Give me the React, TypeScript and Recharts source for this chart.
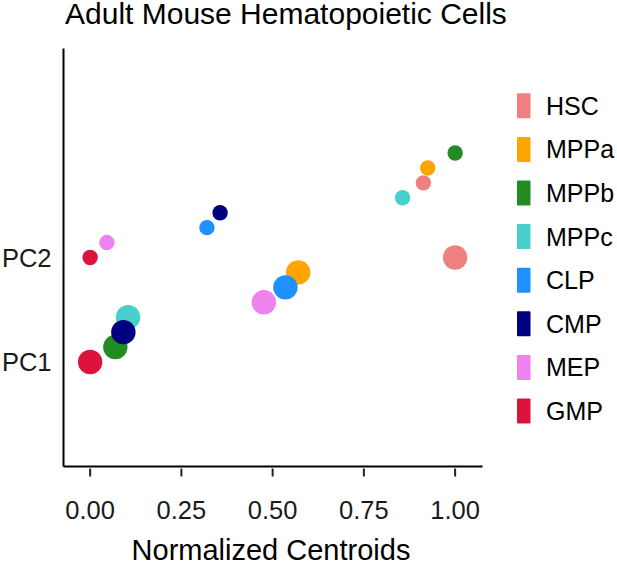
import React from 'react';
import { ScatterChart, Scatter, XAxis, YAxis } from 'recharts';

const cellTypes = ['HSC', 'MPPa', 'MPPb', 'MPPc', 'CLP', 'CMP', 'MEP', 'GMP'];
const cellColors = ['#F08080', '#FFA500', '#228B22', '#48D1CC', '#1E90FF', '#000080', '#EE82EE', '#DC143C'];
const pc1Values = [1.0, 0.57, 0.069, 0.104, 0.535, 0.091, 0.476, 0.0];
const pc2Values = [0.913, 0.925, 1.0, 0.856, 0.32, 0.356, 0.046, 0.0];
const componentLabels = ['PC1', 'PC2'];
const xTicks = [0, 0.25, 0.5, 0.75, 1];
const drawOrder = ['HSC', 'MPPa', 'MPPb', 'MPPc', 'MEP', 'CLP', 'CMP', 'GMP'];

const FONT = '"Liberation Sans", Arial, Helvetica, sans-serif';

const rankOf = (arr: number[], v: number) => arr.filter((a) => a < v).length;
const step = 1 / (cellTypes.length - 1);

const seriesData = cellTypes.map((name, i) => ({
  name,
  color: cellColors[i],
  points: [
    { x: pc1Values[i], y: 1 + rankOf(pc1Values, pc1Values[i]) * step, pc: 'PC1' },
    { x: pc2Values[i], y: 2 + rankOf(pc2Values, pc2Values[i]) * step, pc: 'PC2' },
  ],
}));

const makeShape = (color: string) => (props: any) => {
  const { cx, cy, payload } = props;
  const r = payload.pc === 'PC1' ? 12.2 : 7.7;
  return <circle cx={cx} cy={cy} r={r} fill={color} />;
};

const XTick = (props: any) => {
  const { x, y, payload } = props;
  return (
    <g>
      <line x1={x} x2={x} y1={y + 2} y2={y + 10} stroke="#222" strokeWidth={2} />
      <text x={x} y={y + 52} textAnchor="middle" fontSize={25.5} fill="#1a1a1a" fontFamily={FONT}>
        {Number(payload.value).toFixed(2)}
      </text>
    </g>
  );
};

const YTick = (props: any) => {
  const { y, payload } = props;
  return (
    <text x={51.5} y={y + 9} textAnchor="end" fontSize={25.5} fill="#1a1a1a" fontFamily={FONT}>
      {componentLabels[payload.value - 1]}
    </text>
  );
};

export default function App() {
  return (
    <div style={{ position: 'absolute', left: 0, top: 0, width: 617, height: 569, background: '#fff' }}>
      <ScatterChart
        width={617}
        height={569}
        margin={{ top: 48.5, right: 134.5, bottom: 42.5, left: 7.5 }}
      >
        <XAxis
          type="number"
          dataKey="x"
          domain={[-0.073, 1.075]}
          ticks={xTicks}
          allowDataOverflow
          axisLine={{ stroke: '#000', strokeWidth: 2 }}
          tickLine={false}
          tickSize={0}
          tickMargin={0}
          tick={<XTick />}
          height={60}
          interval={0}
        />
        <YAxis
          type="number"
          dataKey="y"
          domain={[0, 4]}
          ticks={[1, 2]}
          allowDataOverflow
          axisLine={{ stroke: '#000', strokeWidth: 2 }}
          tickLine={false}
          tickSize={0}
          tick={<YTick />}
          width={56}
          interval={0}
        />
        {drawOrder.map((name) => {
          const s = seriesData.find((d) => d.name === name)!;
          return (
            <Scatter
              key={name}
              name={name}
              data={s.points}
              fill={s.color}
              shape={makeShape(s.color)}
              isAnimationActive={false}
            />
          );
        })}
      </ScatterChart>
      <svg
        width={617}
        height={569}
        style={{ position: 'absolute', left: 0, top: 0, pointerEvents: 'none' }}
      >
        <text x={65} y={23.5} fontSize={30} fill="#000" fontFamily={FONT}>
          Adult Mouse Hematopoietic Cells
        </text>
        <text x={271} y={560} textAnchor="middle" fontSize={29} fill="#000" fontFamily={FONT}>
          Normalized Centroids
        </text>
        {cellTypes.map((name, i) => {
          const cy = 105.8 + i * 43.6;
          return (
            <g key={name}>
              <rect x={517} y={cy - 12.5} width={13.5} height={25} rx={1} fill={cellColors[i]} />
              <text x={546} y={cy + 9} fontSize={25} fill="#000" fontFamily={FONT}>
                {name}
              </text>
            </g>
          );
        })}
      </svg>
    </div>
  );
}
